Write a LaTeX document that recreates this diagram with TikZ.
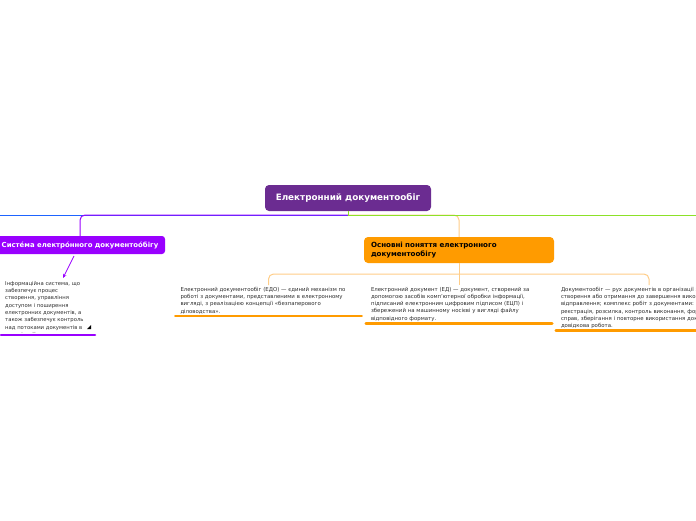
\documentclass[tikz,border=0pt]{standalone}
\usepackage{fontspec}
\setmainfont{DejaVu Sans}
\usetikzlibrary{arrows.meta}
\definecolor{rootc}{RGB}{107,44,145}
\definecolor{violetc}{RGB}{153,0,255}
\definecolor{bluec}{RGB}{30,100,255}
\definecolor{greenc}{RGB}{140,225,40}
\definecolor{orangec}{RGB}{255,155,0}
\definecolor{lorange}{RGB}{255,205,135}
\definecolor{txtc}{RGB}{45,45,45}
\tikzset{
  rootbox/.style={fill=rootc, rounded corners=4pt, text=white, font=\bfseries\fontsize{8.8}{10}\selectfont, minimum width=166pt, minimum height=26pt, inner sep=0pt},
  sysbox/.style={fill=violetc, rounded corners=3pt, text=white, font=\bfseries\fontsize{6.9}{8}\selectfont, minimum width=170pt, minimum height=18pt, inner sep=0pt},
  orbox/.style={fill=orangec, rounded corners=4pt, text=black, font=\bfseries\fontsize{7.1}{9.8}\selectfont, minimum width=190pt, minimum height=26pt, inner xsep=7pt, text width=176pt, align=left},
  leaf/.style={text=txtc, font=\fontsize{5.4}{7.2}\selectfont, text width=176pt, inner xsep=5pt, inner ysep=2pt, align=left, anchor=north},
  note/.style={text=txtc, font=\fontsize{5.3}{7.3}\selectfont, align=left, inner sep=0pt, anchor=north west},
  uline/.style={orangec, line width=2.6pt, line cap=round},
  vline/.style={violetc, line width=2.6pt, line cap=round},
  conn/.style={line width=1pt, rounded corners=5pt},
  stub/.style={line width=1pt},
}
\begin{document}
\begin{tikzpicture}[x=1pt,y=-1pt]
\useasboundingbox (0,0) rectangle (696,520);
\begin{scope}
\clip (0,0) rectangle (696,520);
% root
\node[rootbox] (root) at (348,198) {Електронний документообіг};
\coordinate (hub) at (348,215);
\coordinate (offL) at (-20,215);
\coordinate (offR) at (720,215);
% branch nodes
\node[sysbox] (sys) at (80,245) {Систе́ма електро́нного документоо́бігу};
\node[orbox] (orn) at (459,250) {Основні поняття електронного\\документообігу};
% connectors from root
\draw[stub, bluec] (hub) -- (offL);
\draw[conn, violetc] (hub) -| (sys.north);
\draw[conn, lorange] (hub) -| (orn.north);
\draw[stub, greenc] (root.south) -- (hub) -- (offR);
% note under sys
\coordinate (aS) at (74,256);
\coordinate (aE) at (63,278);
\draw[violetc, line width=0.8pt, -{Stealth[length=4pt,width=3.5pt]}] (aS) -- (aE);
\begin{scope}
\clip (0,279) rectangle (100,332);
\node[note] (nt) at (5,281) {Інформаційна система, що\\забезпечує процес\\створення, управління\\доступом і поширення\\електронних документів, а\\також забезпечує контроль\\над потоками документів в\\організації};
\end{scope}
\fill[black] (91,325) -- (91,329) -- (87,329) -- cycle;
\draw[vline] (1,335) -- (95,335);
% leaves
\node[leaf] (c1) at (268.5,285) {Електронний документообіг (ЕДО) — єдиний механізм по\\роботі з документами, представленими в електронному\\вигляді, з реалізацією концепції «безпаперового\\діловодства».};
\node[leaf] (c2) at (459,285) {Електронний документ (ЕД) — документ, створений за\\допомогою засобів комп'ютерної обробки інформації,\\підписаний електронним цифровим підписом (ЕЦП) і\\збережений на машинному носієві у вигляді файлу\\відповідного формату.};
\node[leaf] (c3) at (649,285) {Документообіг — рух документів в організації з моменту їх\\створення або отримання до завершення виконання або\\відправлення; комплекс робіт з документами: приймання,\\реєстрація, розсилка, контроль виконання, формування\\справ, зберігання і повторне використання документів,\\довідкова робота.};
\coordinate (obr) at (459,274);
\draw[conn, lorange] (orn.south) -- (c2.north);
\draw[conn, lorange] (obr) -| (c1.north);
\draw[conn, lorange] (obr) -| (c3.north);
\draw[uline] (c1.south west) -- (c1.south east);
\draw[uline] (c2.south west) -- (c2.south east);
\draw[uline] (c3.south west) -- (c3.south east);
\end{scope}
\end{tikzpicture}
\end{document}
